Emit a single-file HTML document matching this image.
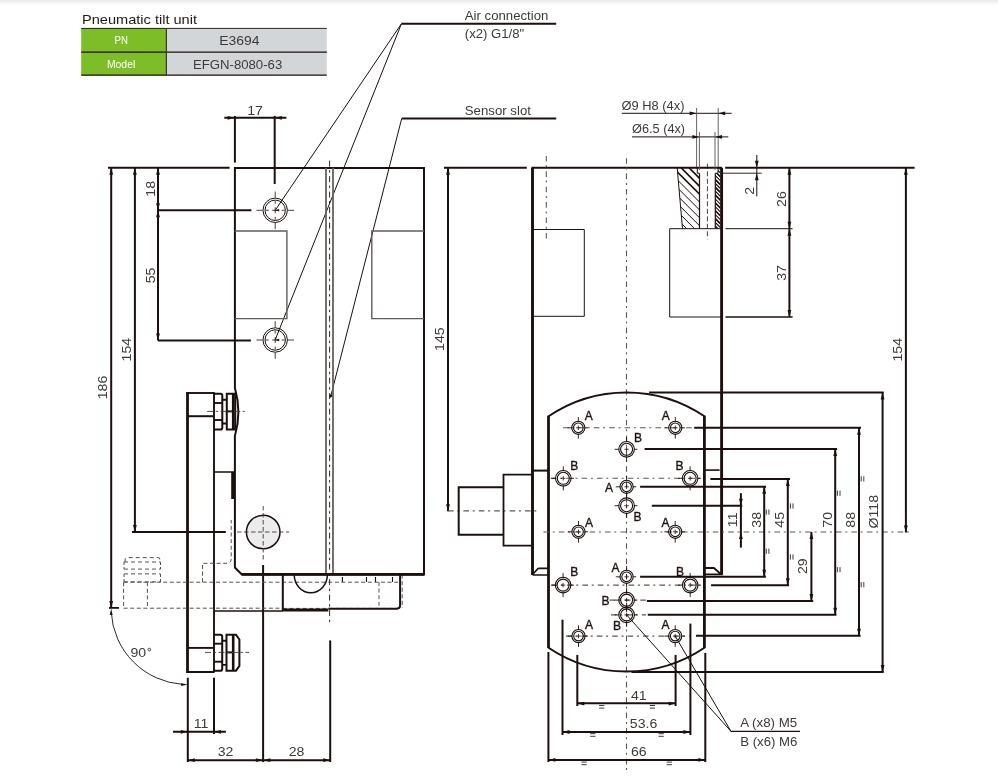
<!DOCTYPE html>
<html><head><meta charset="utf-8"><style>
html,body{margin:0;padding:0;background:#fff;}
body{width:998px;height:779px;overflow:hidden;position:relative;}
svg{position:absolute;left:0;top:0;display:block;will-change:transform;}
text{font-family:"Liberation Sans",sans-serif;}
</style></head><body>
<svg width="998" height="779" viewBox="0 0 998 779">
<defs><linearGradient id="tg" x1="0" y1="0" x2="0" y2="1"><stop offset="0" stop-color="#e9e9e9"/><stop offset="1" stop-color="#ffffff"/></linearGradient></defs>
<rect x="0" y="0" width="998" height="5" fill="url(#tg)"/>
<text x="82" y="23.7" font-size="12.8" text-anchor="start" fill="#231815" textLength="115" lengthAdjust="spacingAndGlyphs">Pneumatic tilt unit</text>
<rect x="81.2" y="28.2" width="85" height="47.2" fill="#7dbd28"/>
<rect x="166.2" y="28.2" width="160.6" height="47.2" fill="#d3d6d9"/>
<line x1="81.2" y1="28.4" x2="326.8" y2="28.4" stroke="#1c100e" stroke-width="0.9" stroke-linecap="butt"/>
<line x1="81.2" y1="52.1" x2="326.8" y2="52.1" stroke="#1c100e" stroke-width="1.2" stroke-linecap="butt"/>
<line x1="81.2" y1="75.2" x2="326.8" y2="75.2" stroke="#1c100e" stroke-width="1.2" stroke-linecap="butt"/>
<line x1="166.4" y1="28.2" x2="166.4" y2="75.6" stroke="#3a3a2a" stroke-width="1.2" stroke-linecap="butt"/>
<text x="121.2" y="43.9" font-size="10.2" text-anchor="middle" fill="#ffffff" textLength="13.5" lengthAdjust="spacingAndGlyphs">PN</text>
<text x="121.1" y="67.5" font-size="10.2" text-anchor="middle" fill="#ffffff" textLength="28.4" lengthAdjust="spacingAndGlyphs">Model</text>
<text x="239.4" y="44.9" font-size="12.4" text-anchor="middle" fill="#3e3a39" textLength="40.4" lengthAdjust="spacingAndGlyphs">E3694</text>
<text x="237.6" y="68.7" font-size="12.4" text-anchor="middle" fill="#3e3a39" textLength="89.3" lengthAdjust="spacingAndGlyphs">EFGN-8080-63</text>
<line x1="401.4" y1="23.8" x2="556.2" y2="23.8" stroke="#1c100e" stroke-width="2.0" stroke-linecap="butt"/>
<line x1="401.4" y1="23.8" x2="275.2" y2="210.3" stroke="#1c100e" stroke-width="1.0" stroke-linecap="butt"/>
<line x1="401.4" y1="23.8" x2="275.1" y2="340.0" stroke="#1c100e" stroke-width="1.0" stroke-linecap="butt"/>
<text x="464.8" y="20" font-size="12.2" text-anchor="start" fill="#3e3a39" textLength="83.6" lengthAdjust="spacingAndGlyphs">Air connection</text>
<text x="464.8" y="37.6" font-size="12.2" text-anchor="start" fill="#3e3a39" textLength="59.4" lengthAdjust="spacingAndGlyphs">(x2) G1/8"</text>
<line x1="401.7" y1="118.6" x2="556.2" y2="118.6" stroke="#1c100e" stroke-width="2.0" stroke-linecap="butt"/>
<line x1="401.7" y1="118.6" x2="330.8" y2="396" stroke="#1c100e" stroke-width="1.0" stroke-linecap="butt"/>
<circle cx="330.8" cy="396" r="1.2" stroke="#1c100e" stroke-width="0.5" fill="#1c100e"/>
<text x="464.8" y="114.7" font-size="12.2" text-anchor="start" fill="#3e3a39" textLength="66.1" lengthAdjust="spacingAndGlyphs">Sensor slot</text>
<path d="M234.9,167.9 H424 V574.5 H241.8 L234.9,567.5 V436 Q241.9,412 234.9,388 Z" stroke="#1c100e" stroke-width="2.0" fill="none"/>
<path d="M234.7,231 H286.9 V318.6 H234.7" stroke="#625c59" stroke-width="1.4" fill="none"/>
<path d="M424,231 H371.8 V318.6 H424" stroke="#625c59" stroke-width="1.4" fill="none"/>
<line x1="326" y1="167.8" x2="326" y2="574.5" stroke="#67615e" stroke-width="1.8" stroke-linecap="butt"/>
<line x1="333" y1="167.8" x2="333" y2="574.5" stroke="#67615e" stroke-width="1.8" stroke-linecap="butt"/>
<line x1="329.6" y1="160.6" x2="329.6" y2="625.7" stroke="#1c100e" stroke-width="0.9" stroke-dasharray="6,3.5,2.5,3.5" stroke-linecap="butt"/>
<circle cx="275.2" cy="210.3" r="12.2" stroke="#1c100e" stroke-width="1.0" fill="none"/>
<circle cx="275.2" cy="210.3" r="10.2" stroke="#1c100e" stroke-width="1.0" fill="none"/>
<line x1="256.4" y1="210.3" x2="262.7" y2="210.3" stroke="#1c100e" stroke-width="0.8" stroke-linecap="butt"/>
<line x1="275.2" y1="191.5" x2="275.2" y2="197.8" stroke="#1c100e" stroke-width="0.8" stroke-linecap="butt"/>
<line x1="265.7" y1="210.3" x2="268.7" y2="210.3" stroke="#1c100e" stroke-width="0.8" stroke-linecap="butt"/>
<line x1="275.2" y1="200.8" x2="275.2" y2="203.8" stroke="#1c100e" stroke-width="0.8" stroke-linecap="butt"/>
<line x1="272.2" y1="210.3" x2="278.2" y2="210.3" stroke="#1c100e" stroke-width="0.8" stroke-linecap="butt"/>
<line x1="275.2" y1="207.3" x2="275.2" y2="213.3" stroke="#1c100e" stroke-width="0.8" stroke-linecap="butt"/>
<line x1="281.7" y1="210.3" x2="284.7" y2="210.3" stroke="#1c100e" stroke-width="0.8" stroke-linecap="butt"/>
<line x1="275.2" y1="216.8" x2="275.2" y2="219.8" stroke="#1c100e" stroke-width="0.8" stroke-linecap="butt"/>
<line x1="287.7" y1="210.3" x2="294.0" y2="210.3" stroke="#1c100e" stroke-width="0.8" stroke-linecap="butt"/>
<line x1="275.2" y1="222.8" x2="275.2" y2="229.10000000000002" stroke="#1c100e" stroke-width="0.8" stroke-linecap="butt"/>
<polygon points="275.2,210.3 279.2,209.1 279.2,211.5" fill="#1c100e"/>
<circle cx="275.2" cy="340.0" r="12.2" stroke="#1c100e" stroke-width="1.0" fill="none"/>
<circle cx="275.2" cy="340.0" r="10.2" stroke="#1c100e" stroke-width="1.0" fill="none"/>
<line x1="256.4" y1="340.0" x2="262.7" y2="340.0" stroke="#1c100e" stroke-width="0.8" stroke-linecap="butt"/>
<line x1="275.2" y1="321.2" x2="275.2" y2="327.5" stroke="#1c100e" stroke-width="0.8" stroke-linecap="butt"/>
<line x1="265.7" y1="340.0" x2="268.7" y2="340.0" stroke="#1c100e" stroke-width="0.8" stroke-linecap="butt"/>
<line x1="275.2" y1="330.5" x2="275.2" y2="333.5" stroke="#1c100e" stroke-width="0.8" stroke-linecap="butt"/>
<line x1="272.2" y1="340.0" x2="278.2" y2="340.0" stroke="#1c100e" stroke-width="0.8" stroke-linecap="butt"/>
<line x1="275.2" y1="337.0" x2="275.2" y2="343.0" stroke="#1c100e" stroke-width="0.8" stroke-linecap="butt"/>
<line x1="281.7" y1="340.0" x2="284.7" y2="340.0" stroke="#1c100e" stroke-width="0.8" stroke-linecap="butt"/>
<line x1="275.2" y1="346.5" x2="275.2" y2="349.5" stroke="#1c100e" stroke-width="0.8" stroke-linecap="butt"/>
<line x1="287.7" y1="340.0" x2="294.0" y2="340.0" stroke="#1c100e" stroke-width="0.8" stroke-linecap="butt"/>
<line x1="275.2" y1="352.5" x2="275.2" y2="358.8" stroke="#1c100e" stroke-width="0.8" stroke-linecap="butt"/>
<polygon points="275.2,340.0 279.2,338.8 279.2,341.2" fill="#1c100e"/>
<line x1="158" y1="210.3" x2="251.4" y2="210.3" stroke="#1c100e" stroke-width="2.0" stroke-linecap="butt"/>
<line x1="158" y1="340.5" x2="250.9" y2="340.5" stroke="#1c100e" stroke-width="2.0" stroke-linecap="butt"/>
<line x1="108" y1="167.7" x2="229.6" y2="167.7" stroke="#1c100e" stroke-width="2.0" stroke-linecap="butt"/>
<line x1="224.3" y1="117.8" x2="286.4" y2="117.8" stroke="#1c100e" stroke-width="2.0" stroke-linecap="butt"/>
<polygon points="234.7,117.8 227.7,115.9 227.7,119.7" fill="#1c100e"/>
<polygon points="274.8,117.8 281.8,115.9 281.8,119.7" fill="#1c100e"/>
<line x1="234.9" y1="116" x2="234.9" y2="162.6" stroke="#1c100e" stroke-width="2.0" stroke-linecap="butt"/>
<line x1="274.7" y1="116" x2="274.7" y2="184" stroke="#1c100e" stroke-width="2.0" stroke-linecap="butt"/>
<text x="255.1" y="114.6" font-size="12.6" text-anchor="middle" fill="#3e3a39" textLength="15.7" lengthAdjust="spacingAndGlyphs">17</text>
<line x1="111.2" y1="167.7" x2="111.2" y2="607.9" stroke="#1c100e" stroke-width="2.0" stroke-linecap="butt"/>
<polygon points="111.2,167.7 109.3,174.7 113.1,174.7" fill="#1c100e"/>
<polygon points="111.2,607.9 109.3,600.9 113.1,600.9" fill="#1c100e"/>
<line x1="134.9" y1="167.7" x2="134.9" y2="532" stroke="#1c100e" stroke-width="2.0" stroke-linecap="butt"/>
<polygon points="134.9,167.7 133.0,174.7 136.8,174.7" fill="#1c100e"/>
<polygon points="134.9,532.0 133.0,525.0 136.8,525.0" fill="#1c100e"/>
<line x1="158" y1="167.7" x2="158" y2="340.5" stroke="#1c100e" stroke-width="2.0" stroke-linecap="butt"/>
<polygon points="158.0,167.7 156.1,174.7 159.9,174.7" fill="#1c100e"/>
<polygon points="158.0,210.3 156.1,203.3 159.9,203.3" fill="#1c100e"/>
<polygon points="158.0,210.3 156.1,217.3 159.9,217.3" fill="#1c100e"/>
<polygon points="158.0,340.5 156.1,333.5 159.9,333.5" fill="#1c100e"/>
<line x1="132" y1="532" x2="225.8" y2="532" stroke="#1c100e" stroke-width="2.0" stroke-linecap="butt"/>
<line x1="109" y1="607.9" x2="119" y2="607.9" stroke="#1c100e" stroke-width="1.8" stroke-linecap="butt"/>
<text x="154.8" y="188.8" font-size="12.6" text-anchor="middle" fill="#3e3a39" transform="rotate(-90 154.8 188.8)" textLength="15.7" lengthAdjust="spacingAndGlyphs">18</text>
<text x="155.0" y="275.4" font-size="12.6" text-anchor="middle" fill="#3e3a39" transform="rotate(-90 155.0 275.4)" textLength="15.7" lengthAdjust="spacingAndGlyphs">55</text>
<text x="131.4" y="349.6" font-size="12.6" text-anchor="middle" fill="#3e3a39" transform="rotate(-90 131.4 349.6)" textLength="23.55" lengthAdjust="spacingAndGlyphs">154</text>
<text x="107.3" y="387.5" font-size="12.6" text-anchor="middle" fill="#3e3a39" transform="rotate(-90 107.3 387.5)" textLength="23.55" lengthAdjust="spacingAndGlyphs">186</text>
<line x1="187.5" y1="392" x2="187.5" y2="673" stroke="#1c100e" stroke-width="2.8" stroke-linecap="butt"/>
<line x1="186.5" y1="393" x2="214.5" y2="393" stroke="#1c100e" stroke-width="1.9" stroke-linecap="butt"/>
<line x1="214" y1="392.6" x2="214" y2="672" stroke="#1c100e" stroke-width="1.9" stroke-linecap="butt"/>
<line x1="187.6" y1="416.2" x2="214" y2="416.2" stroke="#1c100e" stroke-width="2.0" stroke-linecap="butt"/>
<line x1="214" y1="472" x2="234.7" y2="472" stroke="#1c100e" stroke-width="1.5" stroke-linecap="butt"/>
<rect x="231.2" y="472" width="3.6" height="27" fill="#1c100e"/>
<line x1="187.6" y1="647.9" x2="214" y2="647.9" stroke="#1c100e" stroke-width="1.9" stroke-linecap="butt"/>
<line x1="186.6" y1="672" x2="214.6" y2="672" stroke="#1c100e" stroke-width="2.0" stroke-linecap="butt"/>
<path d="M214,393.7 H220.5 Q222.3,393.7 222.3,395.5 V427.8 Q222.3,429.6 220.5,429.6 H214" stroke="#1c100e" stroke-width="2.0" fill="none"/>
<line x1="214" y1="403" x2="222.3" y2="403" stroke="#1c100e" stroke-width="1.9" stroke-linecap="butt"/>
<line x1="214" y1="420" x2="222.3" y2="420" stroke="#1c100e" stroke-width="1.9" stroke-linecap="butt"/>
<path d="M222.3,399.8 H226.8 M222.3,423.5 H226.8" stroke="#1c100e" stroke-width="1.9" fill="none"/>
<path d="M226.8,393.7 H235.2 V429.6 H226.8 Z" stroke="#1c100e" stroke-width="2.0" fill="none"/>
<line x1="233.2" y1="393.7" x2="233.2" y2="429.6" stroke="#1c100e" stroke-width="2.6" stroke-linecap="butt"/>
<line x1="226.8" y1="411.4" x2="233.2" y2="411.4" stroke="#1c100e" stroke-width="2.0" stroke-linecap="butt"/>
<line x1="207.2" y1="411.4" x2="244.8" y2="411.4" stroke="#3e3a39" stroke-width="0.9" stroke-dasharray="6,2.5,2.5,2.5" stroke-linecap="butt"/>
<path d="M214,634.7 H220.4 Q222.2,634.7 222.2,636.5 V668.9 Q222.2,670.7 220.4,670.7 H214" stroke="#1c100e" stroke-width="2.0" fill="none"/>
<line x1="214" y1="643.7" x2="222.2" y2="643.7" stroke="#1c100e" stroke-width="1.9" stroke-linecap="butt"/>
<line x1="214" y1="661.7" x2="222.2" y2="661.7" stroke="#1c100e" stroke-width="1.9" stroke-linecap="butt"/>
<path d="M222.2,640.8 H226.5 M222.2,664.9 H226.5" stroke="#1c100e" stroke-width="1.9" fill="none"/>
<path d="M226.5,634.7 H236 L239.4,639.5 V665.9 L236,670.7 H226.5 Z" stroke="#1c100e" stroke-width="2.0" fill="none"/>
<line x1="233.2" y1="634.7" x2="233.2" y2="670.7" stroke="#1c100e" stroke-width="2.6" stroke-linecap="butt"/>
<line x1="226.5" y1="652.4" x2="233.2" y2="652.4" stroke="#1c100e" stroke-width="2.0" stroke-linecap="butt"/>
<line x1="205" y1="652.4" x2="249" y2="652.4" stroke="#3e3a39" stroke-width="0.9" stroke-dasharray="6,2.5,2.5,2.5" stroke-linecap="butt"/>
<circle cx="263.2" cy="532" r="16.8" stroke="#1c100e" stroke-width="1.5" fill="#ececec"/>
<line x1="237" y1="532" x2="289.2" y2="532" stroke="#3e3a39" stroke-width="0.9" stroke-dasharray="4.5,2.5" stroke-linecap="butt"/>
<line x1="263.2" y1="506" x2="263.2" y2="560" stroke="#3e3a39" stroke-width="0.9" stroke-dasharray="4.5,2.5" stroke-linecap="butt"/>
<line x1="263.1" y1="565" x2="263.1" y2="762" stroke="#1c100e" stroke-width="2.0" stroke-linecap="butt"/>
<line x1="123.6" y1="582.2" x2="401" y2="582.2" stroke="#575150" stroke-width="1.0" stroke-dasharray="4,2.6" stroke-linecap="butt"/>
<line x1="123.6" y1="608.2" x2="282.8" y2="608.2" stroke="#575150" stroke-width="1.0" stroke-dasharray="4,2.6" stroke-linecap="butt"/>
<line x1="282.8" y1="608.4" x2="401" y2="608.4" stroke="#575150" stroke-width="1.0" stroke-dasharray="4,2.6" stroke-linecap="butt"/>
<line x1="123.6" y1="582.2" x2="123.6" y2="607.9" stroke="#575150" stroke-width="1.0" stroke-dasharray="4,2.6" stroke-linecap="butt"/>
<line x1="147.4" y1="582.2" x2="147.4" y2="607.9" stroke="#575150" stroke-width="1.0" stroke-dasharray="4,2.6" stroke-linecap="butt"/>
<path d="M125.2,562 V559 Q125.2,557.6 127,557.6 H158 Q159.8,557.6 159.8,559 V562" stroke="#575150" stroke-width="1.0" fill="none" stroke-dasharray="4,3"/>
<path d="M124,562 H160.5 M124,569.1 H160.5 M124,573.9 H160.5 M124,581.9 H160.5" stroke="#575150" stroke-width="1.0" fill="none" stroke-dasharray="4,3"/>
<path d="M124,562 V569 M160.5,562 V569 M124,574 V582 M160.5,574 V582" stroke="#575150" stroke-width="1.0" fill="none" stroke-dasharray="3,2"/>
<path d="M202.5,582.2 V563.3 H227 Q231.2,563.3 231.2,559 V520" stroke="#575150" stroke-width="1.0" fill="none" stroke-dasharray="4,2.6"/>
<line x1="379" y1="582" x2="379" y2="608" stroke="#575150" stroke-width="1.0" stroke-dasharray="4,2.6" stroke-linecap="butt"/>
<line x1="402.2" y1="574.5" x2="402.2" y2="608" stroke="#575150" stroke-width="1.0" stroke-dasharray="4,2.6" stroke-linecap="butt"/>
<line x1="241.8" y1="574.3" x2="424" y2="574.3" stroke="#1c100e" stroke-width="2.7" stroke-linecap="butt"/>
<line x1="282.8" y1="574.5" x2="282.8" y2="611" stroke="#1c100e" stroke-width="2.0" stroke-linecap="butt"/>
<line x1="214" y1="611" x2="283" y2="611" stroke="#1c100e" stroke-width="1.6" stroke-linecap="butt"/>
<line x1="282.8" y1="610" x2="328.3" y2="610" stroke="#1c100e" stroke-width="3.0" stroke-linecap="butt"/>
<path d="M328.3,608.7 H397 Q400.1,608.7 400.1,605.6 V574.5" stroke="#1c100e" stroke-width="2.0" fill="none"/>
<path d="M294.2,574.5 A16.6,18.3 0 0 0 327.4,574.5" stroke="#1c100e" stroke-width="1.5" fill="none"/>
<line x1="342.4" y1="577" x2="342.4" y2="582" stroke="#1c100e" stroke-width="1.1" stroke-linecap="butt"/>
<line x1="366.5" y1="577" x2="366.5" y2="582" stroke="#1c100e" stroke-width="1.1" stroke-linecap="butt"/>
<line x1="375.5" y1="577" x2="375.5" y2="582" stroke="#1c100e" stroke-width="1.1" stroke-linecap="butt"/>
<line x1="392.5" y1="577" x2="392.5" y2="582" stroke="#1c100e" stroke-width="1.1" stroke-linecap="butt"/>
<path d="M111.2,612 A76.7,76.7 0 0 0 183,684.4" stroke="#1c100e" stroke-width="0.9" fill="none"/>
<polygon points="111.2,608.5 109.8,615.0 112.6,615.0" fill="#1c100e"/>
<polygon points="187.6,684.6 181.1,683.2 181.1,686.0" fill="#1c100e"/>
<text x="130.4" y="656.6" font-size="12.6" text-anchor="start" fill="#3e3a39" textLength="15.7" lengthAdjust="spacingAndGlyphs">90</text>
<circle cx="149.3" cy="649.6" r="1.4" stroke="#3e3a39" stroke-width="0.9" fill="none"/>
<line x1="187.8" y1="677.8" x2="187.8" y2="762" stroke="#1c100e" stroke-width="2.0" stroke-linecap="butt"/>
<line x1="214" y1="677.8" x2="214" y2="734" stroke="#1c100e" stroke-width="2.0" stroke-linecap="butt"/>
<line x1="330.2" y1="640.4" x2="330.2" y2="762" stroke="#1c100e" stroke-width="2.0" stroke-linecap="butt"/>
<line x1="173" y1="731.8" x2="225.9" y2="731.8" stroke="#1c100e" stroke-width="2.0" stroke-linecap="butt"/>
<polygon points="187.8,731.8 180.8,729.9 180.8,733.7" fill="#1c100e"/>
<polygon points="214.0,731.8 221.0,729.9 221.0,733.7" fill="#1c100e"/>
<text x="201" y="727.8" font-size="12.6" text-anchor="middle" fill="#3e3a39" textLength="14.65" lengthAdjust="spacingAndGlyphs">11</text>
<line x1="187.8" y1="760.2" x2="330.2" y2="760.2" stroke="#1c100e" stroke-width="2.0" stroke-linecap="butt"/>
<polygon points="187.8,760.2 194.8,758.3 194.8,762.1" fill="#1c100e"/>
<polygon points="262.9,760.2 255.9,758.3 255.9,762.1" fill="#1c100e"/>
<polygon points="263.3,760.2 270.3,758.3 270.3,762.1" fill="#1c100e"/>
<polygon points="330.2,760.2 323.2,758.3 323.2,762.1" fill="#1c100e"/>
<text x="225.5" y="756.1" font-size="12.6" text-anchor="middle" fill="#3e3a39" textLength="15.7" lengthAdjust="spacingAndGlyphs">32</text>
<text x="296.5" y="756.1" font-size="12.6" text-anchor="middle" fill="#3e3a39" textLength="15.7" lengthAdjust="spacingAndGlyphs">28</text>
<line x1="532.5" y1="167.8" x2="532.5" y2="575" stroke="#1c100e" stroke-width="2.9" stroke-linecap="butt"/>
<line x1="531.5" y1="167.8" x2="722" y2="167.8" stroke="#1c100e" stroke-width="2.0" stroke-linecap="butt"/>
<line x1="721.6" y1="167.8" x2="721.6" y2="574.5" stroke="#1c100e" stroke-width="2.9" stroke-linecap="butt"/>
<line x1="444" y1="167.7" x2="526.8" y2="167.7" stroke="#1c100e" stroke-width="2.0" stroke-linecap="butt"/>
<line x1="725.2" y1="167.7" x2="914.6" y2="167.7" stroke="#1c100e" stroke-width="2.0" stroke-linecap="butt"/>
<path d="M532.6,229.5 H584.3 V316.3 H532.6" stroke="#1c100e" stroke-width="1.0" fill="none"/>
<path d="M721.5,228.7 H669.7 V317 H721.5" stroke="#1c100e" stroke-width="1.0" fill="none"/>
<line x1="546.3" y1="155.9" x2="546.3" y2="241" stroke="#5e5855" stroke-width="1.1" stroke-dasharray="5.6,3.7,2,4.1" stroke-linecap="butt"/>
<line x1="626.5" y1="158.2" x2="626.5" y2="771" stroke="#5e5855" stroke-width="1.1" stroke-dasharray="5.6,3.7,2,4.1" stroke-linecap="butt"/>
<clipPath id="h1"><polygon points="677.2,168 697.3,168 697.3,173.2 699.5,173.2 699.5,228.6 682.5,228.6"/></clipPath>
<clipPath id="h2"><polygon points="715.3,173.2 718,173.2 718,168 720.5,168 720.5,228.6 715.3,228.6"/></clipPath>
<g clip-path="url(#h1)"><path d="M610.2,168 l70,70 M618.1,168 l70,70 M626.0,168 l70,70 M633.9,168 l70,70 M641.8,168 l70,70 M649.7,168 l70,70 M657.6,168 l70,70 M665.5,168 l70,70" stroke="#1c100e" stroke-width="1.0"/><path d="M673.4,168 l70,70 M681.3,168 l70,70 M689.2,168 l70,70 M697.1,168 l70,70" stroke="#1c100e" stroke-width="1.7"/></g>
<g clip-path="url(#h2)"><path d="M649.2,168 l70,70 M657.0,168 l70,70 M664.8,168 l70,70 M672.6,168 l70,70 M680.4,168 l70,70 M688.2,168 l70,70 M696.0,168 l70,70 M703.8,168 l70,70 M711.6,168 l70,70 M719.4,168 l70,70 M727.2,168 l70,70 M735.0,168 l70,70 M742.8,168 l70,70 M750.6,168 l70,70 M758.4,168 l70,70" stroke="#1c100e" stroke-width="1.7"/><path d="M645.3,168 l70,70 M653.1,168 l70,70 M660.9,168 l70,70 M668.7,168 l70,70 M676.5,168 l70,70 M684.3,168 l70,70 M692.1,168 l70,70 M699.9,168 l70,70 M707.7,168 l70,70 M715.5,168 l70,70 M723.3,168 l70,70 M731.1,168 l70,70 M738.9,168 l70,70 M746.7,168 l70,70 M754.5,168 l70,70" stroke="#1c100e" stroke-width="1.1"/></g>
<path d="M677.2,168 L682.5,228.6" stroke="#1c100e" stroke-width="1.0" fill="none"/>
<line x1="699.5" y1="173.2" x2="699.5" y2="228.6" stroke="#1c100e" stroke-width="1.2" stroke-linecap="butt"/>
<line x1="715.3" y1="173.2" x2="715.3" y2="228.6" stroke="#1c100e" stroke-width="1.2" stroke-linecap="butt"/>
<path d="M697.3,168 V173.2 H699.5 M718,168 V173.2 H715.3" stroke="#1c100e" stroke-width="1.0" fill="none"/>
<line x1="707.4" y1="163.8" x2="707.4" y2="239.3" stroke="#1c100e" stroke-width="0.8" stroke-dasharray="5,2.5" stroke-linecap="butt"/>
<line x1="621.8" y1="113.3" x2="731.6" y2="113.3" stroke="#1c100e" stroke-width="1.0" stroke-linecap="butt"/>
<polygon points="696.6,113.3 689.6,111.4 689.6,115.2" fill="#1c100e"/>
<polygon points="718.2,113.3 725.2,111.4 725.2,115.2" fill="#1c100e"/>
<line x1="696.6" y1="108" x2="696.6" y2="167" stroke="#575150" stroke-width="0.9" stroke-linecap="butt"/>
<line x1="718.2" y1="108" x2="718.2" y2="167" stroke="#575150" stroke-width="0.9" stroke-linecap="butt"/>
<text x="621.5" y="110.1" font-size="12.2" text-anchor="start" fill="#3e3a39" textLength="63" lengthAdjust="spacingAndGlyphs">Ø9 H8 (4x)</text>
<line x1="632" y1="136.9" x2="728.3" y2="136.9" stroke="#1c100e" stroke-width="1.0" stroke-linecap="butt"/>
<polygon points="699.4,136.9 692.4,135.0 692.4,138.8" fill="#1c100e"/>
<polygon points="715.0,136.9 722.0,135.0 722.0,138.8" fill="#1c100e"/>
<line x1="699.4" y1="132" x2="699.4" y2="170" stroke="#575150" stroke-width="0.9" stroke-linecap="butt"/>
<line x1="715" y1="132" x2="715" y2="170" stroke="#575150" stroke-width="0.9" stroke-linecap="butt"/>
<text x="632.1" y="133.2" font-size="12.2" text-anchor="start" fill="#3e3a39" textLength="53" lengthAdjust="spacingAndGlyphs">Ø6.5 (4x)</text>
<line x1="756.8" y1="155" x2="756.8" y2="196.4" stroke="#1c100e" stroke-width="1.0" stroke-linecap="butt"/>
<polygon points="756.8,167.8 754.9,160.8 758.7,160.8" fill="#1c100e"/>
<polygon points="756.8,173.3 754.9,180.3 758.7,180.3" fill="#1c100e"/>
<line x1="723" y1="173.2" x2="761.8" y2="173.2" stroke="#1c100e" stroke-width="0.9" stroke-linecap="butt"/>
<text x="754.2" y="190.8" font-size="12.6" text-anchor="middle" fill="#3e3a39" transform="rotate(-90 754.2 190.8)" textLength="7.85" lengthAdjust="spacingAndGlyphs">2</text>
<line x1="789.4" y1="167.7" x2="789.4" y2="317" stroke="#1c100e" stroke-width="2.0" stroke-linecap="butt"/>
<polygon points="789.4,167.7 787.5,174.7 791.3,174.7" fill="#1c100e"/>
<polygon points="789.4,228.7 787.5,221.7 791.3,221.7" fill="#1c100e"/>
<polygon points="789.4,228.7 787.5,235.7 791.3,235.7" fill="#1c100e"/>
<polygon points="789.4,317.0 787.5,310.0 791.3,310.0" fill="#1c100e"/>
<line x1="725.5" y1="228.7" x2="792.6" y2="228.7" stroke="#1c100e" stroke-width="1.0" stroke-linecap="butt"/>
<line x1="725.5" y1="317" x2="792.6" y2="317" stroke="#1c100e" stroke-width="1.6" stroke-linecap="butt"/>
<text x="785.9" y="199.1" font-size="12.6" text-anchor="middle" fill="#3e3a39" transform="rotate(-90 785.9 199.1)" textLength="15.7" lengthAdjust="spacingAndGlyphs">26</text>
<text x="785.9" y="273.0" font-size="12.6" text-anchor="middle" fill="#3e3a39" transform="rotate(-90 785.9 273.0)" textLength="15.7" lengthAdjust="spacingAndGlyphs">37</text>
<line x1="905.9" y1="167.7" x2="905.9" y2="532.5" stroke="#1c100e" stroke-width="2.0" stroke-linecap="butt"/>
<polygon points="905.9,167.7 904.0,174.7 907.8,174.7" fill="#1c100e"/>
<polygon points="905.9,532.5 904.0,525.5 907.8,525.5" fill="#1c100e"/>
<text x="902.1" y="349.7" font-size="12.6" text-anchor="middle" fill="#3e3a39" transform="rotate(-90 902.1 349.7)" textLength="23.55" lengthAdjust="spacingAndGlyphs">154</text>
<line x1="448" y1="167.7" x2="448" y2="511.3" stroke="#1c100e" stroke-width="2.0" stroke-linecap="butt"/>
<polygon points="448.0,167.7 446.1,174.7 449.9,174.7" fill="#1c100e"/>
<polygon points="448.0,511.3 446.1,504.3 449.9,504.3" fill="#1c100e"/>
<text x="444.3" y="339.1" font-size="12.6" text-anchor="middle" fill="#3e3a39" transform="rotate(-90 444.3 339.1)" textLength="23.55" lengthAdjust="spacingAndGlyphs">145</text>
<line x1="448" y1="510.9" x2="537.2" y2="510.9" stroke="#5e5855" stroke-width="1.1" stroke-dasharray="5.6,3.7,2,4.1" stroke-linecap="butt"/>
<path d="M503.5,487.2 H458.7 V534.7 H503.5" stroke="#1c100e" stroke-width="2.0" fill="none"/>
<path d="M531.5,474.6 H503.5 V545.7 H531.5" stroke="#1c100e" stroke-width="1.8" fill="none"/>
<path d="M532.6,470.6 H548.4" stroke="#1c100e" stroke-width="2.0" fill="none"/>
<path d="M532.6,575 H548.4 M538.2,568.4 H548.4 M538.2,568.4 L533.5,573.5" stroke="#1c100e" stroke-width="1.6" fill="none"/>
<path d="M704.6,470.1 H719.6" stroke="#1c100e" stroke-width="1.6" fill="none"/>
<path d="M704.6,568 H713.9 L721.2,574.3 H704.6" stroke="#1c100e" stroke-width="1.8" fill="none"/>
<path d="M548.2,416.5 A139.5,139.5 0 0 1 704.8,416.5" stroke="#1c100e" stroke-width="2.0" fill="none"/>
<path d="M704.8,647.5 A139.5,139.5 0 0 1 548.2,647.5" stroke="#1c100e" stroke-width="2.0" fill="none"/>
<line x1="548.5" y1="415.8" x2="548.5" y2="648" stroke="#1c100e" stroke-width="2.8" stroke-linecap="butt"/>
<line x1="704.4" y1="415.8" x2="704.4" y2="648" stroke="#1c100e" stroke-width="2.8" stroke-linecap="butt"/>
<line x1="563" y1="427.8" x2="694" y2="427.8" stroke="#5e5855" stroke-width="1.1" stroke-dasharray="5.6,3.7,2,4.1" stroke-linecap="butt"/>
<line x1="550.8" y1="478.3" x2="699.6" y2="478.3" stroke="#5e5855" stroke-width="1.1" stroke-dasharray="5.6,3.7,2,4.1" stroke-linecap="butt"/>
<line x1="543.4" y1="532" x2="912.6" y2="532" stroke="#5e5855" stroke-width="1.1" stroke-dasharray="5.6,3.7,2,4.1" stroke-linecap="butt"/>
<line x1="551.6" y1="585.1" x2="700" y2="585.1" stroke="#5e5855" stroke-width="1.1" stroke-dasharray="5.6,3.7,2,4.1" stroke-linecap="butt"/>
<line x1="566" y1="636.1" x2="690" y2="636.1" stroke="#5e5855" stroke-width="1.1" stroke-dasharray="5.6,3.7,2,4.1" stroke-linecap="butt"/>
<line x1="609.5" y1="600.1" x2="646" y2="600.1" stroke="#5e5855" stroke-width="1.1" stroke-dasharray="5.6,3.7,2,4.1" stroke-linecap="butt"/>
<line x1="611" y1="614.9" x2="646" y2="614.9" stroke="#5e5855" stroke-width="1.1" stroke-dasharray="5.6,3.7,2,4.1" stroke-linecap="butt"/>
<circle cx="578.3" cy="427.8" r="6.6" stroke="#1c100e" stroke-width="1.1" fill="none"/>
<circle cx="578.3" cy="427.8" r="4.8" stroke="#1c100e" stroke-width="1.1" fill="none"/>
<line x1="578.3" y1="417.0" x2="578.3" y2="421.7" stroke="#1c100e" stroke-width="0.9" stroke-linecap="butt"/>
<line x1="578.3" y1="433.90000000000003" x2="578.3" y2="438.6" stroke="#1c100e" stroke-width="0.9" stroke-linecap="butt"/>
<line x1="567.4999999999999" y1="427.8" x2="572.1999999999999" y2="427.8" stroke="#1c100e" stroke-width="0.9" stroke-linecap="butt"/>
<line x1="584.4" y1="427.8" x2="587.9" y2="427.8" stroke="#1c100e" stroke-width="0.9" stroke-linecap="butt"/>
<line x1="576.0999999999999" y1="427.8" x2="580.5" y2="427.8" stroke="#1c100e" stroke-width="0.8" stroke-linecap="butt"/>
<line x1="578.3" y1="425.6" x2="578.3" y2="430.0" stroke="#1c100e" stroke-width="0.8" stroke-linecap="butt"/>
<circle cx="675.3" cy="427.8" r="6.6" stroke="#1c100e" stroke-width="1.1" fill="none"/>
<circle cx="675.3" cy="427.8" r="4.8" stroke="#1c100e" stroke-width="1.1" fill="none"/>
<line x1="675.3" y1="417.0" x2="675.3" y2="421.7" stroke="#1c100e" stroke-width="0.9" stroke-linecap="butt"/>
<line x1="675.3" y1="433.90000000000003" x2="675.3" y2="438.6" stroke="#1c100e" stroke-width="0.9" stroke-linecap="butt"/>
<line x1="664.4999999999999" y1="427.8" x2="669.1999999999999" y2="427.8" stroke="#1c100e" stroke-width="0.9" stroke-linecap="butt"/>
<line x1="681.4" y1="427.8" x2="684.9" y2="427.8" stroke="#1c100e" stroke-width="0.9" stroke-linecap="butt"/>
<line x1="673.0999999999999" y1="427.8" x2="677.5" y2="427.8" stroke="#1c100e" stroke-width="0.8" stroke-linecap="butt"/>
<line x1="675.3" y1="425.6" x2="675.3" y2="430.0" stroke="#1c100e" stroke-width="0.8" stroke-linecap="butt"/>
<circle cx="626.6" cy="486.8" r="6.6" stroke="#1c100e" stroke-width="1.1" fill="none"/>
<circle cx="626.6" cy="486.8" r="4.8" stroke="#1c100e" stroke-width="1.1" fill="none"/>
<line x1="626.6" y1="476.0" x2="626.6" y2="480.7" stroke="#1c100e" stroke-width="0.9" stroke-linecap="butt"/>
<line x1="626.6" y1="492.90000000000003" x2="626.6" y2="497.6" stroke="#1c100e" stroke-width="0.9" stroke-linecap="butt"/>
<line x1="615.8" y1="486.8" x2="620.5" y2="486.8" stroke="#1c100e" stroke-width="0.9" stroke-linecap="butt"/>
<line x1="632.7" y1="486.8" x2="636.2" y2="486.8" stroke="#1c100e" stroke-width="0.9" stroke-linecap="butt"/>
<line x1="624.4" y1="486.8" x2="628.8000000000001" y2="486.8" stroke="#1c100e" stroke-width="0.8" stroke-linecap="butt"/>
<line x1="626.6" y1="484.6" x2="626.6" y2="489.0" stroke="#1c100e" stroke-width="0.8" stroke-linecap="butt"/>
<circle cx="578.5" cy="531.8" r="6.6" stroke="#1c100e" stroke-width="1.1" fill="none"/>
<circle cx="578.5" cy="531.8" r="4.8" stroke="#1c100e" stroke-width="1.1" fill="none"/>
<line x1="578.5" y1="520.9999999999999" x2="578.5" y2="525.6999999999999" stroke="#1c100e" stroke-width="0.9" stroke-linecap="butt"/>
<line x1="578.5" y1="537.9" x2="578.5" y2="542.6" stroke="#1c100e" stroke-width="0.9" stroke-linecap="butt"/>
<line x1="567.6999999999999" y1="531.8" x2="572.4" y2="531.8" stroke="#1c100e" stroke-width="0.9" stroke-linecap="butt"/>
<line x1="584.6" y1="531.8" x2="588.1" y2="531.8" stroke="#1c100e" stroke-width="0.9" stroke-linecap="butt"/>
<line x1="576.3" y1="531.8" x2="580.7" y2="531.8" stroke="#1c100e" stroke-width="0.8" stroke-linecap="butt"/>
<line x1="578.5" y1="529.5999999999999" x2="578.5" y2="534.0" stroke="#1c100e" stroke-width="0.8" stroke-linecap="butt"/>
<circle cx="675.2" cy="531.8" r="6.6" stroke="#1c100e" stroke-width="1.1" fill="none"/>
<circle cx="675.2" cy="531.8" r="4.8" stroke="#1c100e" stroke-width="1.1" fill="none"/>
<line x1="675.2" y1="520.9999999999999" x2="675.2" y2="525.6999999999999" stroke="#1c100e" stroke-width="0.9" stroke-linecap="butt"/>
<line x1="675.2" y1="537.9" x2="675.2" y2="542.6" stroke="#1c100e" stroke-width="0.9" stroke-linecap="butt"/>
<line x1="664.4" y1="531.8" x2="669.1" y2="531.8" stroke="#1c100e" stroke-width="0.9" stroke-linecap="butt"/>
<line x1="681.3000000000001" y1="531.8" x2="684.8000000000001" y2="531.8" stroke="#1c100e" stroke-width="0.9" stroke-linecap="butt"/>
<line x1="673.0" y1="531.8" x2="677.4000000000001" y2="531.8" stroke="#1c100e" stroke-width="0.8" stroke-linecap="butt"/>
<line x1="675.2" y1="529.5999999999999" x2="675.2" y2="534.0" stroke="#1c100e" stroke-width="0.8" stroke-linecap="butt"/>
<circle cx="626.6" cy="576.8" r="6.6" stroke="#1c100e" stroke-width="1.1" fill="none"/>
<circle cx="626.6" cy="576.8" r="4.8" stroke="#1c100e" stroke-width="1.1" fill="none"/>
<line x1="626.6" y1="565.9999999999999" x2="626.6" y2="570.6999999999999" stroke="#1c100e" stroke-width="0.9" stroke-linecap="butt"/>
<line x1="626.6" y1="582.9" x2="626.6" y2="587.6" stroke="#1c100e" stroke-width="0.9" stroke-linecap="butt"/>
<line x1="615.8" y1="576.8" x2="620.5" y2="576.8" stroke="#1c100e" stroke-width="0.9" stroke-linecap="butt"/>
<line x1="632.7" y1="576.8" x2="636.2" y2="576.8" stroke="#1c100e" stroke-width="0.9" stroke-linecap="butt"/>
<line x1="624.4" y1="576.8" x2="628.8000000000001" y2="576.8" stroke="#1c100e" stroke-width="0.8" stroke-linecap="butt"/>
<line x1="626.6" y1="574.5999999999999" x2="626.6" y2="579.0" stroke="#1c100e" stroke-width="0.8" stroke-linecap="butt"/>
<circle cx="578.5" cy="636.1" r="6.6" stroke="#1c100e" stroke-width="1.1" fill="none"/>
<circle cx="578.5" cy="636.1" r="4.8" stroke="#1c100e" stroke-width="1.1" fill="none"/>
<line x1="578.5" y1="625.3" x2="578.5" y2="630.0" stroke="#1c100e" stroke-width="0.9" stroke-linecap="butt"/>
<line x1="578.5" y1="642.2" x2="578.5" y2="646.9000000000001" stroke="#1c100e" stroke-width="0.9" stroke-linecap="butt"/>
<line x1="567.6999999999999" y1="636.1" x2="572.4" y2="636.1" stroke="#1c100e" stroke-width="0.9" stroke-linecap="butt"/>
<line x1="584.6" y1="636.1" x2="588.1" y2="636.1" stroke="#1c100e" stroke-width="0.9" stroke-linecap="butt"/>
<line x1="576.3" y1="636.1" x2="580.7" y2="636.1" stroke="#1c100e" stroke-width="0.8" stroke-linecap="butt"/>
<line x1="578.5" y1="633.9" x2="578.5" y2="638.3000000000001" stroke="#1c100e" stroke-width="0.8" stroke-linecap="butt"/>
<circle cx="675.2" cy="636.1" r="6.6" stroke="#1c100e" stroke-width="1.1" fill="none"/>
<circle cx="675.2" cy="636.1" r="4.8" stroke="#1c100e" stroke-width="1.1" fill="none"/>
<line x1="675.2" y1="625.3" x2="675.2" y2="630.0" stroke="#1c100e" stroke-width="0.9" stroke-linecap="butt"/>
<line x1="675.2" y1="642.2" x2="675.2" y2="646.9000000000001" stroke="#1c100e" stroke-width="0.9" stroke-linecap="butt"/>
<line x1="664.4" y1="636.1" x2="669.1" y2="636.1" stroke="#1c100e" stroke-width="0.9" stroke-linecap="butt"/>
<line x1="681.3000000000001" y1="636.1" x2="684.8000000000001" y2="636.1" stroke="#1c100e" stroke-width="0.9" stroke-linecap="butt"/>
<line x1="673.0" y1="636.1" x2="677.4000000000001" y2="636.1" stroke="#1c100e" stroke-width="0.8" stroke-linecap="butt"/>
<line x1="675.2" y1="633.9" x2="675.2" y2="638.3000000000001" stroke="#1c100e" stroke-width="0.8" stroke-linecap="butt"/>
<circle cx="626.6" cy="449.3" r="7.8" stroke="#1c100e" stroke-width="1.1" fill="none"/>
<circle cx="626.6" cy="449.3" r="6.0" stroke="#1c100e" stroke-width="1.1" fill="none"/>
<line x1="626.6" y1="437.3" x2="626.6" y2="442.0" stroke="#1c100e" stroke-width="0.9" stroke-linecap="butt"/>
<line x1="626.6" y1="456.6" x2="626.6" y2="461.3" stroke="#1c100e" stroke-width="0.9" stroke-linecap="butt"/>
<line x1="614.6" y1="449.3" x2="619.3000000000001" y2="449.3" stroke="#1c100e" stroke-width="0.9" stroke-linecap="butt"/>
<line x1="633.9" y1="449.3" x2="637.4" y2="449.3" stroke="#1c100e" stroke-width="0.9" stroke-linecap="butt"/>
<line x1="624.4" y1="449.3" x2="628.8000000000001" y2="449.3" stroke="#1c100e" stroke-width="0.8" stroke-linecap="butt"/>
<line x1="626.6" y1="447.1" x2="626.6" y2="451.5" stroke="#1c100e" stroke-width="0.8" stroke-linecap="butt"/>
<circle cx="563.3" cy="478.3" r="7.8" stroke="#1c100e" stroke-width="1.1" fill="none"/>
<circle cx="563.3" cy="478.3" r="6.0" stroke="#1c100e" stroke-width="1.1" fill="none"/>
<line x1="563.3" y1="466.3" x2="563.3" y2="471.0" stroke="#1c100e" stroke-width="0.9" stroke-linecap="butt"/>
<line x1="563.3" y1="485.6" x2="563.3" y2="490.3" stroke="#1c100e" stroke-width="0.9" stroke-linecap="butt"/>
<line x1="551.3" y1="478.3" x2="556.0" y2="478.3" stroke="#1c100e" stroke-width="0.9" stroke-linecap="butt"/>
<line x1="570.5999999999999" y1="478.3" x2="574.0999999999999" y2="478.3" stroke="#1c100e" stroke-width="0.9" stroke-linecap="butt"/>
<line x1="561.0999999999999" y1="478.3" x2="565.5" y2="478.3" stroke="#1c100e" stroke-width="0.8" stroke-linecap="butt"/>
<line x1="563.3" y1="476.1" x2="563.3" y2="480.5" stroke="#1c100e" stroke-width="0.8" stroke-linecap="butt"/>
<circle cx="690.1" cy="478.3" r="7.8" stroke="#1c100e" stroke-width="1.1" fill="none"/>
<circle cx="690.1" cy="478.3" r="6.0" stroke="#1c100e" stroke-width="1.1" fill="none"/>
<line x1="690.1" y1="466.3" x2="690.1" y2="471.0" stroke="#1c100e" stroke-width="0.9" stroke-linecap="butt"/>
<line x1="690.1" y1="485.6" x2="690.1" y2="490.3" stroke="#1c100e" stroke-width="0.9" stroke-linecap="butt"/>
<line x1="678.1" y1="478.3" x2="682.8000000000001" y2="478.3" stroke="#1c100e" stroke-width="0.9" stroke-linecap="butt"/>
<line x1="697.4" y1="478.3" x2="700.9" y2="478.3" stroke="#1c100e" stroke-width="0.9" stroke-linecap="butt"/>
<line x1="687.9" y1="478.3" x2="692.3000000000001" y2="478.3" stroke="#1c100e" stroke-width="0.8" stroke-linecap="butt"/>
<line x1="690.1" y1="476.1" x2="690.1" y2="480.5" stroke="#1c100e" stroke-width="0.8" stroke-linecap="butt"/>
<circle cx="626.6" cy="505.7" r="7.8" stroke="#1c100e" stroke-width="1.1" fill="none"/>
<circle cx="626.6" cy="505.7" r="6.0" stroke="#1c100e" stroke-width="1.1" fill="none"/>
<line x1="626.6" y1="493.7" x2="626.6" y2="498.4" stroke="#1c100e" stroke-width="0.9" stroke-linecap="butt"/>
<line x1="626.6" y1="513.0" x2="626.6" y2="517.7" stroke="#1c100e" stroke-width="0.9" stroke-linecap="butt"/>
<line x1="614.6" y1="505.7" x2="619.3000000000001" y2="505.7" stroke="#1c100e" stroke-width="0.9" stroke-linecap="butt"/>
<line x1="633.9" y1="505.7" x2="637.4" y2="505.7" stroke="#1c100e" stroke-width="0.9" stroke-linecap="butt"/>
<line x1="624.4" y1="505.7" x2="628.8000000000001" y2="505.7" stroke="#1c100e" stroke-width="0.8" stroke-linecap="butt"/>
<line x1="626.6" y1="503.5" x2="626.6" y2="507.9" stroke="#1c100e" stroke-width="0.8" stroke-linecap="butt"/>
<circle cx="563.1" cy="585.1" r="7.8" stroke="#1c100e" stroke-width="1.1" fill="none"/>
<circle cx="563.1" cy="585.1" r="6.0" stroke="#1c100e" stroke-width="1.1" fill="none"/>
<line x1="563.1" y1="573.1" x2="563.1" y2="577.8000000000001" stroke="#1c100e" stroke-width="0.9" stroke-linecap="butt"/>
<line x1="563.1" y1="592.4" x2="563.1" y2="597.1" stroke="#1c100e" stroke-width="0.9" stroke-linecap="butt"/>
<line x1="551.1" y1="585.1" x2="555.8000000000001" y2="585.1" stroke="#1c100e" stroke-width="0.9" stroke-linecap="butt"/>
<line x1="570.4" y1="585.1" x2="573.9" y2="585.1" stroke="#1c100e" stroke-width="0.9" stroke-linecap="butt"/>
<line x1="560.9" y1="585.1" x2="565.3000000000001" y2="585.1" stroke="#1c100e" stroke-width="0.8" stroke-linecap="butt"/>
<line x1="563.1" y1="582.9" x2="563.1" y2="587.3000000000001" stroke="#1c100e" stroke-width="0.8" stroke-linecap="butt"/>
<circle cx="690.2" cy="585.1" r="7.8" stroke="#1c100e" stroke-width="1.1" fill="none"/>
<circle cx="690.2" cy="585.1" r="6.0" stroke="#1c100e" stroke-width="1.1" fill="none"/>
<line x1="690.2" y1="573.1" x2="690.2" y2="577.8000000000001" stroke="#1c100e" stroke-width="0.9" stroke-linecap="butt"/>
<line x1="690.2" y1="592.4" x2="690.2" y2="597.1" stroke="#1c100e" stroke-width="0.9" stroke-linecap="butt"/>
<line x1="678.2" y1="585.1" x2="682.9000000000001" y2="585.1" stroke="#1c100e" stroke-width="0.9" stroke-linecap="butt"/>
<line x1="697.5" y1="585.1" x2="701.0" y2="585.1" stroke="#1c100e" stroke-width="0.9" stroke-linecap="butt"/>
<line x1="688.0" y1="585.1" x2="692.4000000000001" y2="585.1" stroke="#1c100e" stroke-width="0.8" stroke-linecap="butt"/>
<line x1="690.2" y1="582.9" x2="690.2" y2="587.3000000000001" stroke="#1c100e" stroke-width="0.8" stroke-linecap="butt"/>
<circle cx="626.6" cy="600.1" r="7.8" stroke="#1c100e" stroke-width="1.1" fill="none"/>
<circle cx="626.6" cy="600.1" r="6.0" stroke="#1c100e" stroke-width="1.1" fill="none"/>
<line x1="626.6" y1="588.1" x2="626.6" y2="592.8000000000001" stroke="#1c100e" stroke-width="0.9" stroke-linecap="butt"/>
<line x1="626.6" y1="607.4" x2="626.6" y2="612.1" stroke="#1c100e" stroke-width="0.9" stroke-linecap="butt"/>
<line x1="614.6" y1="600.1" x2="619.3000000000001" y2="600.1" stroke="#1c100e" stroke-width="0.9" stroke-linecap="butt"/>
<line x1="633.9" y1="600.1" x2="637.4" y2="600.1" stroke="#1c100e" stroke-width="0.9" stroke-linecap="butt"/>
<line x1="624.4" y1="600.1" x2="628.8000000000001" y2="600.1" stroke="#1c100e" stroke-width="0.8" stroke-linecap="butt"/>
<line x1="626.6" y1="597.9" x2="626.6" y2="602.3000000000001" stroke="#1c100e" stroke-width="0.8" stroke-linecap="butt"/>
<circle cx="626.6" cy="614.9" r="7.8" stroke="#1c100e" stroke-width="1.1" fill="none"/>
<circle cx="626.6" cy="614.9" r="6.0" stroke="#1c100e" stroke-width="1.1" fill="none"/>
<line x1="626.6" y1="602.9" x2="626.6" y2="607.6" stroke="#1c100e" stroke-width="0.9" stroke-linecap="butt"/>
<line x1="626.6" y1="622.1999999999999" x2="626.6" y2="626.9" stroke="#1c100e" stroke-width="0.9" stroke-linecap="butt"/>
<line x1="614.6" y1="614.9" x2="619.3000000000001" y2="614.9" stroke="#1c100e" stroke-width="0.9" stroke-linecap="butt"/>
<line x1="633.9" y1="614.9" x2="637.4" y2="614.9" stroke="#1c100e" stroke-width="0.9" stroke-linecap="butt"/>
<line x1="624.4" y1="614.9" x2="628.8000000000001" y2="614.9" stroke="#1c100e" stroke-width="0.8" stroke-linecap="butt"/>
<line x1="626.6" y1="612.6999999999999" x2="626.6" y2="617.1" stroke="#1c100e" stroke-width="0.8" stroke-linecap="butt"/>
<text x="588.7" y="420.40000000000003" font-size="12" text-anchor="middle" fill="#1c100e" stroke="#231815" stroke-width="0.35">A</text>
<text x="665.7" y="420.40000000000003" font-size="12" text-anchor="middle" fill="#1c100e" stroke="#231815" stroke-width="0.35">A</text>
<text x="609.1" y="491.6" font-size="12" text-anchor="middle" fill="#1c100e" stroke="#231815" stroke-width="0.35">A</text>
<text x="589.1" y="526.8" font-size="12" text-anchor="middle" fill="#1c100e" stroke="#231815" stroke-width="0.35">A</text>
<text x="665.5" y="526.8" font-size="12" text-anchor="middle" fill="#1c100e" stroke="#231815" stroke-width="0.35">A</text>
<text x="615.5" y="572.0999999999999" font-size="12" text-anchor="middle" fill="#1c100e" stroke="#231815" stroke-width="0.35">A</text>
<text x="589.1" y="629.4" font-size="12" text-anchor="middle" fill="#1c100e" stroke="#231815" stroke-width="0.35">A</text>
<text x="665.5" y="629.4" font-size="12" text-anchor="middle" fill="#1c100e" stroke="#231815" stroke-width="0.35">A</text>
<text x="637.9" y="441.7" font-size="12" text-anchor="middle" fill="#1c100e" stroke="#231815" stroke-width="0.35">B</text>
<text x="574.3" y="470.0" font-size="12" text-anchor="middle" fill="#1c100e" stroke="#231815" stroke-width="0.35">B</text>
<text x="679.4" y="470.0" font-size="12" text-anchor="middle" fill="#1c100e" stroke="#231815" stroke-width="0.35">B</text>
<text x="637.4" y="520.5" font-size="12" text-anchor="middle" fill="#1c100e" stroke="#231815" stroke-width="0.35">B</text>
<text x="574.3" y="575.9" font-size="12" text-anchor="middle" fill="#1c100e" stroke="#231815" stroke-width="0.35">B</text>
<text x="680" y="575.9" font-size="12" text-anchor="middle" fill="#1c100e" stroke="#231815" stroke-width="0.35">B</text>
<text x="605.5" y="605.1999999999999" font-size="12" text-anchor="middle" fill="#1c100e" stroke="#231815" stroke-width="0.35">B</text>
<text x="617" y="629.8" font-size="12" text-anchor="middle" fill="#1c100e" stroke="#231815" stroke-width="0.35">B</text>
<line x1="649.1" y1="392.6" x2="883.7" y2="392.6" stroke="#1c100e" stroke-width="2.0" stroke-linecap="butt"/>
<line x1="694.2" y1="427.8" x2="861" y2="427.8" stroke="#1c100e" stroke-width="2.0" stroke-linecap="butt"/>
<line x1="644.6" y1="449.1" x2="837" y2="449.1" stroke="#1c100e" stroke-width="2.0" stroke-linecap="butt"/>
<line x1="710.4" y1="478.9" x2="790" y2="478.9" stroke="#1c100e" stroke-width="2.0" stroke-linecap="butt"/>
<line x1="640.1" y1="486.8" x2="766" y2="486.8" stroke="#1c100e" stroke-width="2.0" stroke-linecap="butt"/>
<line x1="651.8" y1="505.7" x2="742.3" y2="505.7" stroke="#1c100e" stroke-width="2.0" stroke-linecap="butt"/>
<line x1="640.1" y1="576.7" x2="765.9" y2="576.7" stroke="#1c100e" stroke-width="2.0" stroke-linecap="butt"/>
<line x1="711.1" y1="585.2" x2="789" y2="585.2" stroke="#1c100e" stroke-width="2.0" stroke-linecap="butt"/>
<line x1="646.9" y1="600.9" x2="813.2" y2="600.9" stroke="#1c100e" stroke-width="2.0" stroke-linecap="butt"/>
<line x1="647.8" y1="614.8" x2="836.4" y2="614.8" stroke="#1c100e" stroke-width="2.0" stroke-linecap="butt"/>
<line x1="696" y1="635.8" x2="860.6" y2="635.8" stroke="#1c100e" stroke-width="2.0" stroke-linecap="butt"/>
<line x1="631.5" y1="672" x2="883.7" y2="672" stroke="#1c100e" stroke-width="2.0" stroke-linecap="butt"/>
<line x1="882.6" y1="392.6" x2="882.6" y2="672" stroke="#1c100e" stroke-width="2.0" stroke-linecap="butt"/>
<polygon points="882.6,392.6 880.7,399.6 884.5,399.6" fill="#1c100e"/>
<polygon points="882.6,672.0 880.7,665.0 884.5,665.0" fill="#1c100e"/>
<line x1="859" y1="427.8" x2="859" y2="635.8" stroke="#1c100e" stroke-width="2.0" stroke-linecap="butt"/>
<polygon points="859.0,427.8 857.1,434.8 860.9,434.8" fill="#1c100e"/>
<polygon points="859.0,635.8 857.1,628.8 860.9,628.8" fill="#1c100e"/>
<line x1="835.2" y1="449.1" x2="835.2" y2="614.8" stroke="#1c100e" stroke-width="2.0" stroke-linecap="butt"/>
<polygon points="835.2,449.1 833.3,456.1 837.1,456.1" fill="#1c100e"/>
<polygon points="835.2,614.8 833.3,607.8 837.1,607.8" fill="#1c100e"/>
<line x1="787.8" y1="478.9" x2="787.8" y2="585.2" stroke="#1c100e" stroke-width="2.0" stroke-linecap="butt"/>
<polygon points="787.8,478.9 785.9,485.9 789.7,485.9" fill="#1c100e"/>
<polygon points="787.8,585.2 785.9,578.2 789.7,578.2" fill="#1c100e"/>
<line x1="764.2" y1="486.8" x2="764.2" y2="576.7" stroke="#1c100e" stroke-width="2.0" stroke-linecap="butt"/>
<polygon points="764.2,486.8 762.3,493.8 766.1,493.8" fill="#1c100e"/>
<polygon points="764.2,576.7 762.3,569.7 766.1,569.7" fill="#1c100e"/>
<line x1="740.9" y1="493.2" x2="740.9" y2="547.6" stroke="#1c100e" stroke-width="2.0" stroke-linecap="butt"/>
<polygon points="740.9,505.7 739.0,498.7 742.8,498.7" fill="#1c100e"/>
<polygon points="740.9,532.0 739.0,539.0 742.8,539.0" fill="#1c100e"/>
<line x1="811.4" y1="532" x2="811.4" y2="600.9" stroke="#1c100e" stroke-width="2.0" stroke-linecap="butt"/>
<polygon points="811.4,532.0 809.5,539.0 813.3,539.0" fill="#1c100e"/>
<polygon points="811.4,600.9 809.5,593.9 813.3,593.9" fill="#1c100e"/>
<text x="736.9" y="519.8" font-size="12.6" text-anchor="middle" fill="#3e3a39" transform="rotate(-90 736.9 519.8)" textLength="14.65" lengthAdjust="spacingAndGlyphs">11</text>
<text x="760.7" y="519.8" font-size="12.6" text-anchor="middle" fill="#3e3a39" transform="rotate(-90 760.7 519.8)" textLength="15.7" lengthAdjust="spacingAndGlyphs">38</text>
<text x="784.2" y="519.8" font-size="12.6" text-anchor="middle" fill="#3e3a39" transform="rotate(-90 784.2 519.8)" textLength="15.7" lengthAdjust="spacingAndGlyphs">45</text>
<text x="831.6" y="519.8" font-size="12.6" text-anchor="middle" fill="#3e3a39" transform="rotate(-90 831.6 519.8)" textLength="15.7" lengthAdjust="spacingAndGlyphs">70</text>
<text x="854.7" y="519.8" font-size="12.6" text-anchor="middle" fill="#3e3a39" transform="rotate(-90 854.7 519.8)" textLength="15.7" lengthAdjust="spacingAndGlyphs">88</text>
<text x="877.8" y="511.7" font-size="12.6" text-anchor="middle" fill="#3e3a39" transform="rotate(-90 877.8 511.7)" textLength="33.48" lengthAdjust="spacingAndGlyphs">Ø118</text>
<text x="807.3" y="566.2" font-size="12.6" text-anchor="middle" fill="#3e3a39" transform="rotate(-90 807.3 566.2)" textLength="15.7" lengthAdjust="spacingAndGlyphs">29</text>
<line x1="766.3000000000001" y1="509.5" x2="766.3000000000001" y2="514.7" stroke="#3e3a39" stroke-width="1.0" stroke-linecap="butt"/>
<line x1="768.9" y1="509.5" x2="768.9" y2="514.7" stroke="#3e3a39" stroke-width="1.0" stroke-linecap="butt"/>
<line x1="790.4000000000001" y1="503.4" x2="790.4000000000001" y2="508.6" stroke="#3e3a39" stroke-width="1.0" stroke-linecap="butt"/>
<line x1="793.0" y1="503.4" x2="793.0" y2="508.6" stroke="#3e3a39" stroke-width="1.0" stroke-linecap="butt"/>
<line x1="837.4000000000001" y1="490.59999999999997" x2="837.4000000000001" y2="495.8" stroke="#3e3a39" stroke-width="1.0" stroke-linecap="butt"/>
<line x1="840.0" y1="490.59999999999997" x2="840.0" y2="495.8" stroke="#3e3a39" stroke-width="1.0" stroke-linecap="butt"/>
<line x1="861.2" y1="476.29999999999995" x2="861.2" y2="481.5" stroke="#3e3a39" stroke-width="1.0" stroke-linecap="butt"/>
<line x1="863.8" y1="476.29999999999995" x2="863.8" y2="481.5" stroke="#3e3a39" stroke-width="1.0" stroke-linecap="butt"/>
<line x1="766.3000000000001" y1="548.6" x2="766.3000000000001" y2="553.8000000000001" stroke="#3e3a39" stroke-width="1.0" stroke-linecap="butt"/>
<line x1="768.9" y1="548.6" x2="768.9" y2="553.8000000000001" stroke="#3e3a39" stroke-width="1.0" stroke-linecap="butt"/>
<line x1="790.4000000000001" y1="554.4" x2="790.4000000000001" y2="559.6" stroke="#3e3a39" stroke-width="1.0" stroke-linecap="butt"/>
<line x1="793.0" y1="554.4" x2="793.0" y2="559.6" stroke="#3e3a39" stroke-width="1.0" stroke-linecap="butt"/>
<line x1="837.4000000000001" y1="567.1" x2="837.4000000000001" y2="572.3000000000001" stroke="#3e3a39" stroke-width="1.0" stroke-linecap="butt"/>
<line x1="840.0" y1="567.1" x2="840.0" y2="572.3000000000001" stroke="#3e3a39" stroke-width="1.0" stroke-linecap="butt"/>
<line x1="861.2" y1="582.1" x2="861.2" y2="587.3000000000001" stroke="#3e3a39" stroke-width="1.0" stroke-linecap="butt"/>
<line x1="863.8" y1="582.1" x2="863.8" y2="587.3000000000001" stroke="#3e3a39" stroke-width="1.0" stroke-linecap="butt"/>
<line x1="548.4" y1="652" x2="548.4" y2="762" stroke="#1c100e" stroke-width="2.0" stroke-linecap="butt"/>
<line x1="562.5" y1="619.7" x2="562.5" y2="735" stroke="#1c100e" stroke-width="2.0" stroke-linecap="butt"/>
<line x1="577.3" y1="654.9" x2="577.3" y2="706" stroke="#1c100e" stroke-width="2.0" stroke-linecap="butt"/>
<line x1="675.6" y1="654.9" x2="675.6" y2="706" stroke="#1c100e" stroke-width="2.0" stroke-linecap="butt"/>
<line x1="690.4" y1="623.6" x2="690.4" y2="735" stroke="#1c100e" stroke-width="2.0" stroke-linecap="butt"/>
<line x1="705.3" y1="652.9" x2="705.3" y2="762" stroke="#1c100e" stroke-width="2.0" stroke-linecap="butt"/>
<line x1="577.3" y1="703.3" x2="675.6" y2="703.3" stroke="#1c100e" stroke-width="2.0" stroke-linecap="butt"/>
<polygon points="577.3,703.6 584.3,701.7 584.3,705.5" fill="#1c100e"/>
<polygon points="675.6,703.6 668.6,701.7 668.6,705.5" fill="#1c100e"/>
<text x="638.8" y="699.5" font-size="12.6" text-anchor="middle" fill="#3e3a39" textLength="15.7" lengthAdjust="spacingAndGlyphs">41</text>
<line x1="562.5" y1="732" x2="690.4" y2="732" stroke="#1c100e" stroke-width="2.0" stroke-linecap="butt"/>
<polygon points="562.5,732.0 569.5,730.1 569.5,733.9" fill="#1c100e"/>
<polygon points="690.4,732.0 683.4,730.1 683.4,733.9" fill="#1c100e"/>
<text x="643.6" y="727.9" font-size="12.6" text-anchor="middle" fill="#3e3a39" textLength="27.47" lengthAdjust="spacingAndGlyphs">53.6</text>
<line x1="548.4" y1="759.9" x2="705.3" y2="759.9" stroke="#1c100e" stroke-width="2.0" stroke-linecap="butt"/>
<polygon points="548.4,759.9 555.4,758.0 555.4,761.8" fill="#1c100e"/>
<polygon points="705.3,759.9 698.3,758.0 698.3,761.8" fill="#1c100e"/>
<text x="638.8" y="755.8" font-size="12.6" text-anchor="middle" fill="#3e3a39" textLength="15.7" lengthAdjust="spacingAndGlyphs">66</text>
<line x1="599.1" y1="705.5" x2="604.3000000000001" y2="705.5" stroke="#3e3a39" stroke-width="1.0" stroke-linecap="butt"/>
<line x1="599.1" y1="708.0999999999999" x2="604.3000000000001" y2="708.0999999999999" stroke="#3e3a39" stroke-width="1.0" stroke-linecap="butt"/>
<line x1="649.8" y1="705.5" x2="655.0" y2="705.5" stroke="#3e3a39" stroke-width="1.0" stroke-linecap="butt"/>
<line x1="649.8" y1="708.0999999999999" x2="655.0" y2="708.0999999999999" stroke="#3e3a39" stroke-width="1.0" stroke-linecap="butt"/>
<line x1="590.1999999999999" y1="733.7" x2="595.4" y2="733.7" stroke="#3e3a39" stroke-width="1.0" stroke-linecap="butt"/>
<line x1="590.1999999999999" y1="736.3" x2="595.4" y2="736.3" stroke="#3e3a39" stroke-width="1.0" stroke-linecap="butt"/>
<line x1="658.6" y1="733.7" x2="663.8000000000001" y2="733.7" stroke="#3e3a39" stroke-width="1.0" stroke-linecap="butt"/>
<line x1="658.6" y1="736.3" x2="663.8000000000001" y2="736.3" stroke="#3e3a39" stroke-width="1.0" stroke-linecap="butt"/>
<line x1="581.5" y1="762.1" x2="586.7" y2="762.1" stroke="#3e3a39" stroke-width="1.0" stroke-linecap="butt"/>
<line x1="581.5" y1="764.6999999999999" x2="586.7" y2="764.6999999999999" stroke="#3e3a39" stroke-width="1.0" stroke-linecap="butt"/>
<line x1="666.6999999999999" y1="762.1" x2="671.9" y2="762.1" stroke="#3e3a39" stroke-width="1.0" stroke-linecap="butt"/>
<line x1="666.6999999999999" y1="764.6999999999999" x2="671.9" y2="764.6999999999999" stroke="#3e3a39" stroke-width="1.0" stroke-linecap="butt"/>
<line x1="626.6" y1="614.9" x2="731" y2="731.4" stroke="#1c100e" stroke-width="1.0" stroke-linecap="butt"/>
<line x1="675.2" y1="636.1" x2="731" y2="731.4" stroke="#1c100e" stroke-width="1.0" stroke-linecap="butt"/>
<line x1="730.6" y1="731.4" x2="800" y2="731.4" stroke="#1c100e" stroke-width="1.1" stroke-linecap="butt"/>
<text x="740.2" y="726.8" font-size="12.2" text-anchor="start" fill="#3e3a39" textLength="57.0" lengthAdjust="spacingAndGlyphs">A (x8) M5</text>
<text x="740.2" y="745.9" font-size="12.2" text-anchor="start" fill="#3e3a39" textLength="57.2" lengthAdjust="spacingAndGlyphs">B (x6) M6</text>
</svg></body></html>
